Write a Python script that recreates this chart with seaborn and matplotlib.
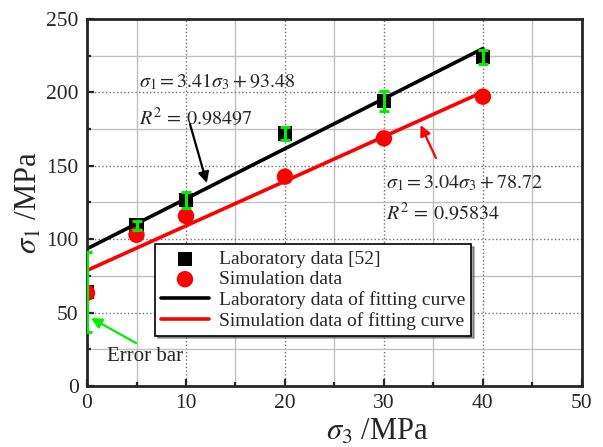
import numpy as np
import pandas as pd
import matplotlib
matplotlib.use('Agg')
import matplotlib.pyplot as plt
from matplotlib.ticker import MultipleLocator
import seaborn as sns

# Dữ liệu
sigma3 = [0, 5, 10, 20, 30, 40]
lab_sigma1 = [64, 109.5, 126.7, 172, 194, 224]
lab_err = [27, 3, 5.5, 4.4, 7, 4.8]
sim_sigma1 = [63.4, 103, 115.8, 142.6, 168.7, 197.1]

# Đường khớp (điểm đầu và cuối)
fit_x = [0, 40]
lab_fit = [93.48, 229.88]
sim_fit = [78.72, 200.32]

sns.set_style('ticks')
plt.rcParams['font.family'] = ['Liberation Serif', 'DejaVu Serif']
plt.rcParams['mathtext.fontset'] = 'stix'

df = pd.DataFrame({'s3': sigma3, 'lab': lab_sigma1, 'sim': sim_sigma1})

fig = plt.figure(figsize=(6.03, 4.47), dpi=100)
ax = fig.add_axes([0.1443, 0.1365, 0.8207, 0.821])

sns.scatterplot(data=df, x='s3', y='lab', marker='s', s=105, color='black',
                edgecolor='none', label='Laboratory data [52]', ax=ax, zorder=3)
sns.scatterplot(data=df, x='s3', y='sim', marker='o', s=140, color='#ff0000',
                edgecolor='none', label='Simulation data', ax=ax, zorder=4)
sns.lineplot(x=fit_x, y=lab_fit, color='black', lw=2.6,
             label='Laboratory data of fitting curve', ax=ax, zorder=4)
sns.lineplot(x=fit_x, y=sim_fit, color='#ff0000', lw=2.6,
             label='Simulation data of fitting curve', ax=ax, zorder=4)
ax.errorbar(sigma3, lab_sigma1, yerr=lab_err, fmt='none', ecolor='#00ee00',
            elinewidth=2.2, capsize=3.5, capthick=2.2, zorder=6)

ax.set_xlim(0, 50)
ax.set_ylim(0, 250)
ax.xaxis.set_major_locator(MultipleLocator(10))
ax.xaxis.set_minor_locator(MultipleLocator(5))
ax.yaxis.set_major_locator(MultipleLocator(50))
ax.yaxis.set_minor_locator(MultipleLocator(25))
ax.grid(which='major', color='#707070', linestyle=':', lw=1)
ax.grid(which='minor', color='#c0c0c0', linestyle='-', lw=1)
ax.set_axisbelow(True)
ax.tick_params(which='major', direction='in', length=5, width=1.6, labelsize=15.5, pad=6)
ax.tick_params(which='minor', direction='in', length=3, width=1.6)
for sp in ax.spines.values():
    sp.set_linewidth(2.0)
    sp.set_zorder(5)

ax.set_xlabel(r'$\sigma_3$ /MPa', fontsize=22)
ax.xaxis.label.set_va('center')
ax.xaxis.set_label_coords(0.586, -0.125)
ax.set_ylabel(r'$\sigma_1$ /MPa', fontsize=22, labelpad=2)

# Chú thích phương trình
eq_fs = 14.5
ax.text(5.25, 207, r'$\sigma_1=3.41\sigma_3+93.48$', fontsize=eq_fs, va='center')
ax.text(5.25, 182.5, r'$R^2\,=\,0.98497$', fontsize=eq_fs, va='center')
ax.text(30.2, 138.3, r'$\sigma_1=3.04\sigma_3+78.72$', fontsize=eq_fs, va='center')
ax.text(30.2, 117.8, r'$R^2\,=\,0.95834$', fontsize=eq_fs, va='center')
ax.text(2.0, 19.8, 'Error bar', fontsize=15, va='center')

arrow_kw = dict(arrowstyle='-|>', lw=1.6, mutation_scale=16, shrinkA=0, shrinkB=0)
ax.annotate('', xy=(12.1, 138.3), xytext=(10.4, 178.5),
            arrowprops=dict(color='black', **arrow_kw))
ax.annotate('', xy=(33.7, 177.8), xytext=(35.25, 155.3),
            arrowprops=dict(color='#ff0000', **arrow_kw))
ax.annotate('', xy=(0.4, 46.3), xytext=(4.95, 29.3),
            arrowprops=dict(color='#00ee00', **arrow_kw))

h, l = ax.get_legend_handles_labels()
leg = ax.legend(h[:4], l[:4], loc='upper left', bbox_to_anchor=(0.137, 0.386),
                fontsize=14, frameon=True, fancybox=False, shadow=True,
                edgecolor='black', framealpha=1, borderpad=0.3, labelspacing=0.15,
                handlelength=2.5, handletextpad=0.5, borderaxespad=0)
leg.get_frame().set_linewidth(1.2)
leg.set_zorder(7)

fig.savefig('out.png', dpi=100)
